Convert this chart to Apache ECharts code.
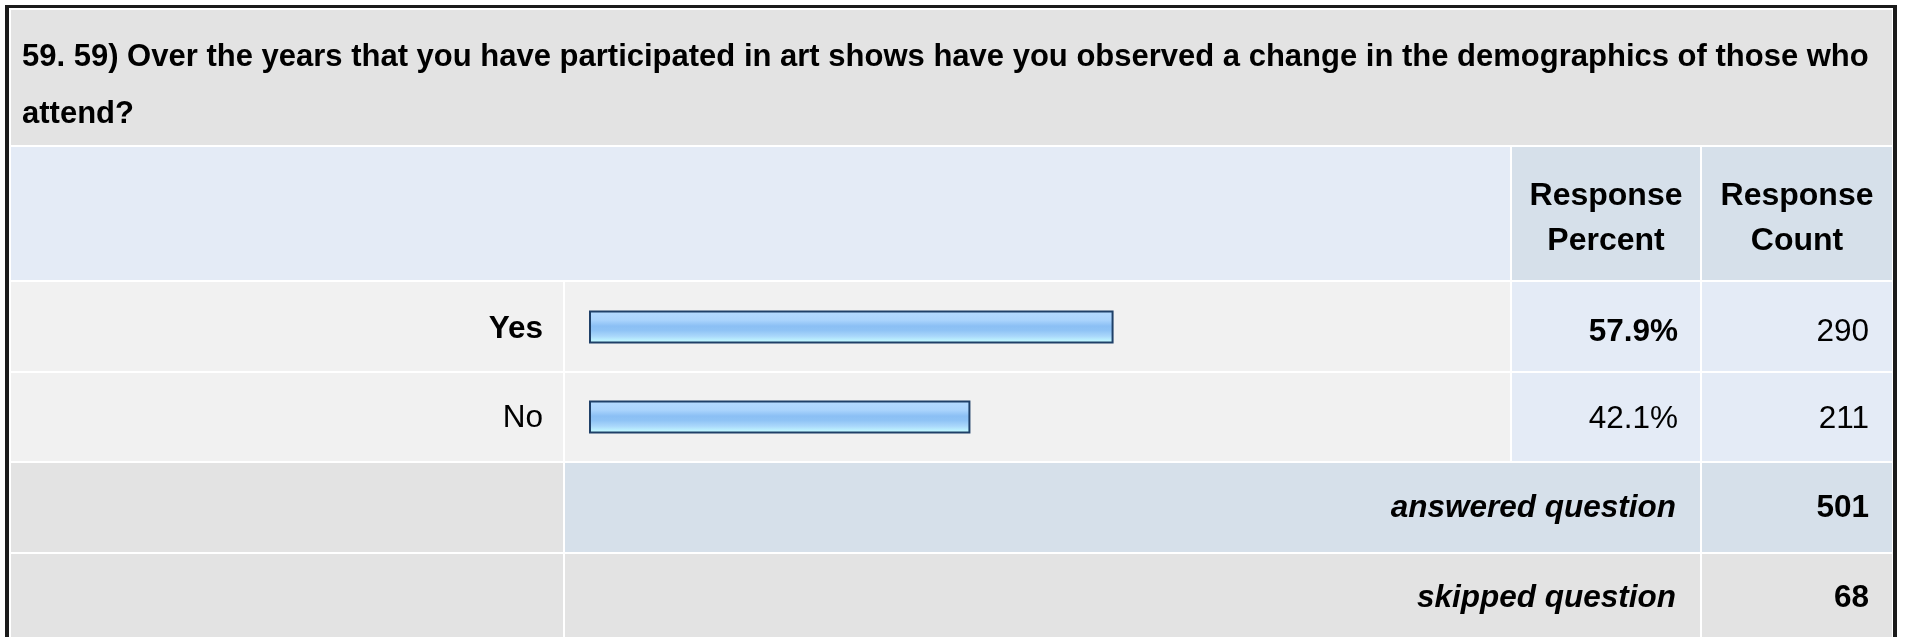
<!DOCTYPE html>
<html><head><meta charset="utf-8">
<script src="https://cdn.jsdelivr.net/npm/echarts@6/dist/echarts.min.js"></script>
<style>html,body{margin:0;padding:0;background:#fff;overflow:hidden}#c{width:1907px;height:637px}</style>
</head><body><div id="c"></div>
<script>
// ---- data ----
const titleLines = ["59. 59) Over the years that you have participated in art shows have you observed a change in the demographics of those who", "attend?"];
const headerPercent = ["Response", "Percent"];
const headerCount = ["Response", "Count"];
const categories = ["Yes", "No"];
const percents = [57.9, 42.1];
const counts = [290, 211];
const boldRow = [true, false];
const summaryLabels = ["answered question", "skipped question"];
const summaryValues = [501, 68];

// ---- layout ----
const FF = '"Liberation Sans", Arial, Helvetica, sans-serif';
const FS = 31.5;
const X = {c0: [11, 563], c1: [565, 1510], c2: [1512, 1700], c3: [1702, 1892]};
const R = {title: [10, 145], head: [147, 280], r0: [282, 371], r1: [373, 461], ans: [463, 552], skp: [554, 640]};
const C = {gray: '#e3e3e3', light: '#f1f1f1', blue: '#e4ebf6', blue2: '#d6e0ea'};

const chart = echarts.init(document.getElementById('c'), null, {renderer: 'canvas'});

function rect(x0, x1, y0, y1, fill) {
  return {type: 'rect', z: 0, silent: true, shape: {x: x0, y: y0, width: x1 - x0, height: y1 - y0}, style: {fill: fill}};
}
function txt(s, x, y, align, weight, style, size) {
  const f = (style || 'normal') + ' ' + (weight || 'normal') + ' ' + (size || FS) + 'px ' + FF;
  return {type: 'text', z: 10, silent: true, style: {text: s, x: x, y: y, fill: '#000', font: f, align: align, verticalAlign: 'middle', textAlign: align, textVerticalAlign: 'middle'}};
}

const grad = new echarts.graphic.LinearGradient(0, 0, 0, 1, [
  {offset: 0, color: '#b6dbff'},
  {offset: 0.3, color: '#a9d3fc'},
  {offset: 0.47, color: '#8bbff4'},
  {offset: 0.6, color: '#8fc3f5'},
  {offset: 0.78, color: '#aad8fb'},
  {offset: 0.92, color: '#bff5ff'},
  {offset: 1, color: '#c6ffff'}
]);

chart.setOption({
  animation: false,
  backgroundColor: '#ffffff',
  grid: {left: 589, width: 906, top: R.r0[0], height: R.r1[1] - R.r0[0] + 1},
  xAxis: {type: 'value', min: 0, max: 100, show: false},
  yAxis: {
    type: 'category', data: categories, inverse: true,
    axisLine: {show: false}, axisTick: {show: false}, splitLine: {show: false},
    axisLabel: {
      margin: 46, color: '#000', fontSize: FS, fontFamily: FF,
      formatter: function (v, i) { return boldRow[i] ? '{b|' + v + '}' : '{n|' + v + '}'; },
      rich: {
        b: {fontWeight: 'bold', fontSize: FS, fontFamily: FF, color: '#000', padding: [5, 0, 0, 0]},
        n: {fontWeight: 'normal', fontSize: FS, fontFamily: FF, color: '#000', padding: [2, 0, 0, 0]}
      }
    }
  },
  series: [{
    type: 'bar', data: percents, barWidth: 33, z: 5, silent: true,
    itemStyle: {color: grad, borderColor: '#1f4068', borderWidth: 2}
  }]
});

// ---- table graphics ----
const els = [];
els.push(rect(5, 1897, 5, 700, '#1b1b1b'));
els.push(rect(9, 1893, 8, 700, '#ffffff'));
els.push(rect(X.c0[0], X.c3[1], R.title[0], R.title[1], C.gray));
els.push(rect(X.c0[0], X.c1[1], R.head[0], R.head[1], C.blue));
els.push(rect(X.c2[0], X.c2[1], R.head[0], R.head[1], C.blue2));
els.push(rect(X.c3[0], X.c3[1], R.head[0], R.head[1], C.blue2));
[R.r0, R.r1].forEach(function (r) {
  els.push(rect(X.c0[0], X.c0[1], r[0], r[1], C.light));
  els.push(rect(X.c1[0], X.c1[1], r[0], r[1], C.light));
  els.push(rect(X.c2[0], X.c2[1], r[0], r[1], C.blue));
  els.push(rect(X.c3[0], X.c3[1], r[0], r[1], C.blue));
});
els.push(rect(X.c0[0], X.c0[1], R.ans[0], R.ans[1], C.gray));
els.push(rect(X.c1[0], X.c2[1], R.ans[0], R.ans[1], C.blue2));
els.push(rect(X.c3[0], X.c3[1], R.ans[0], R.ans[1], C.blue2));
els.push(rect(X.c0[0], X.c0[1], R.skp[0], R.skp[1], C.gray));
els.push(rect(X.c1[0], X.c2[1], R.skp[0], R.skp[1], C.gray));
els.push(rect(X.c3[0], X.c3[1], R.skp[0], R.skp[1], C.gray));

els.push(txt(titleLines[0], 22, 57, 'left', 'bold', null, 31));
els.push(txt(titleLines[1], 22, 114, 'left', 'bold', null, 31));
const pcx = (X.c2[0] + X.c2[1]) / 2, ccx = (X.c3[0] + X.c3[1]) / 2;
els.push(txt(headerPercent[0], pcx, 196, 'center', 'bold', null, 32));
els.push(txt(headerPercent[1], pcx, 241, 'center', 'bold', null, 32));
els.push(txt(headerCount[0], ccx, 196, 'center', 'bold', null, 32));
els.push(txt(headerCount[1], ccx, 241, 'center', 'bold', null, 32));
const yOff = [5, 2];
categories.forEach(function (c, i) {
  const y = chart.convertToPixel({yAxisIndex: 0}, c) + yOff[i];
  const w = boldRow[i] ? 'bold' : 'normal';
  els.push(txt(percents[i].toFixed(1) + '%', 1678, y, 'right', w));
  els.push(txt(String(counts[i]), 1869, y, 'right', 'normal'));
});
const sy = [(R.ans[0] + R.ans[1]) / 2 + 1, 598];
summaryLabels.forEach(function (s, i) {
  els.push(txt(s, 1676, sy[i], 'right', 'bold', 'italic'));
  els.push(txt(String(summaryValues[i]), 1869, sy[i], 'right', 'bold'));
});

chart.setOption({graphic: {elements: els}});
</script>
</body></html>
